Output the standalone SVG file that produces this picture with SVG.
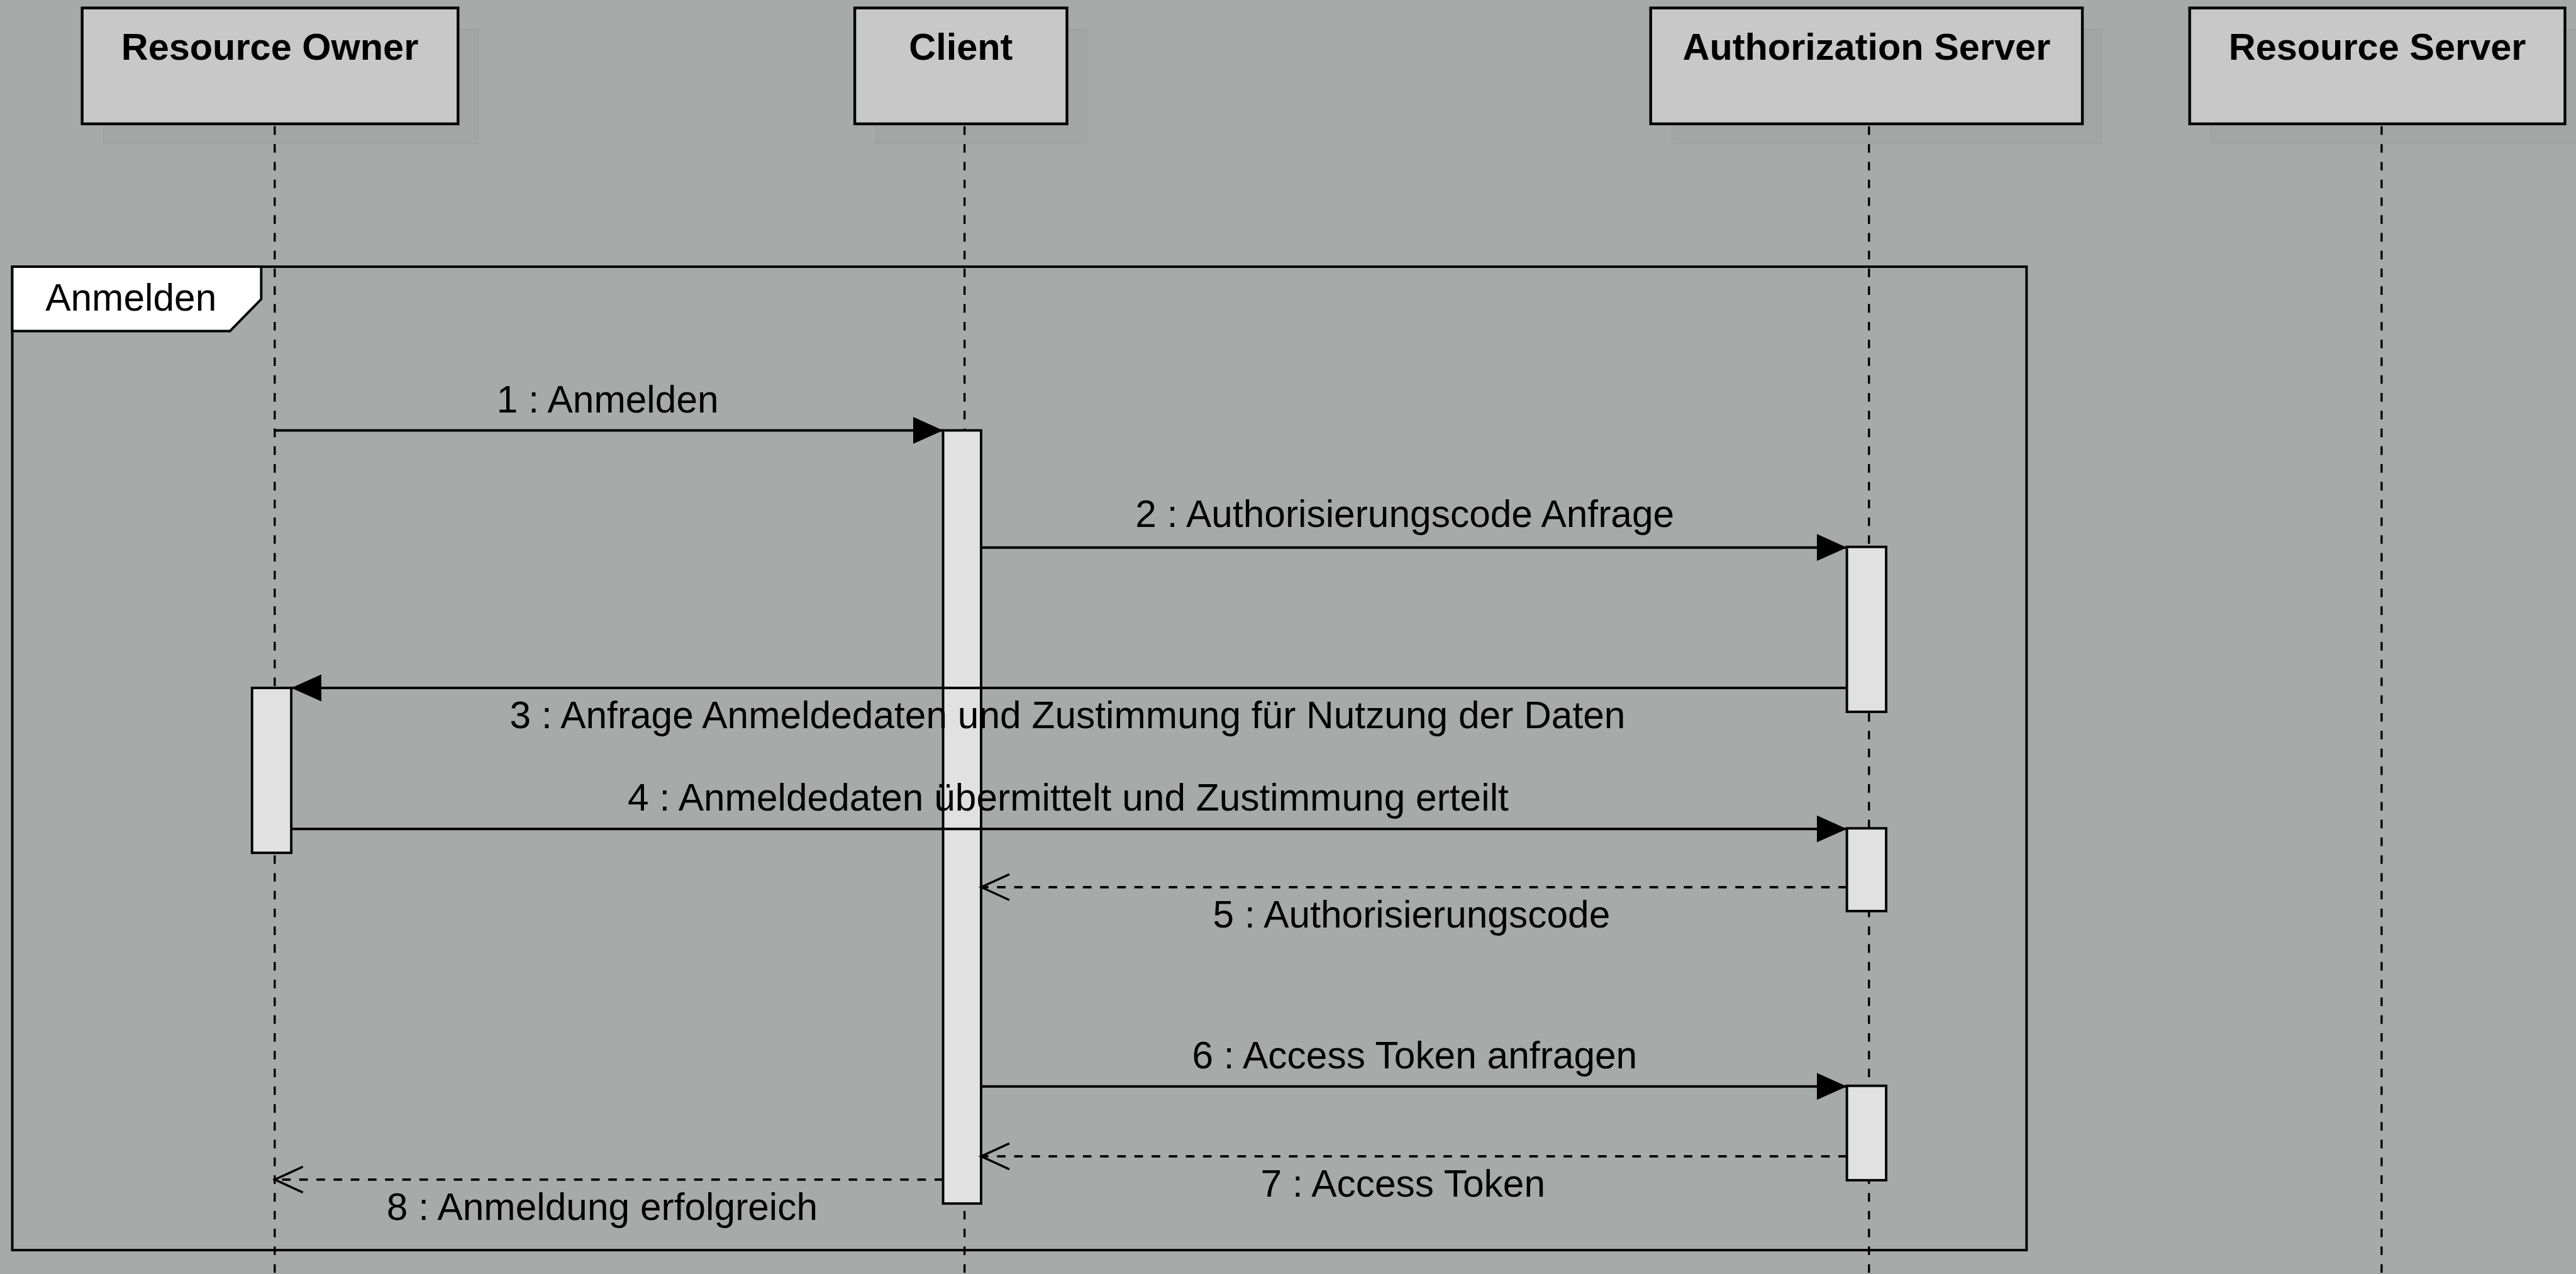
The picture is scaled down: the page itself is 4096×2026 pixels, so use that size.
<svg xmlns="http://www.w3.org/2000/svg" width="4096" height="2026" viewBox="0 0 4096 2026">
<defs>
<style>
.bg{fill:#a6aaa9}
.shadow{fill:#a2a6a5;stroke:#9ca09f;stroke-width:1.5}
.box{fill:#c8c8c8;stroke:#000;stroke-width:4.5}
.title{font-family:"Liberation Sans",Arial,sans-serif;font-weight:bold;font-size:61px;fill:#000;text-anchor:middle}
.life{stroke:#000;stroke-width:3.5;stroke-dasharray:14 15;fill:none}
.act{fill:#e1e1e1;stroke:#000;stroke-width:4}
.frame{fill:none;stroke:#000;stroke-width:4}
.flabel{fill:#fff;stroke:#000;stroke-width:4}
.lbl{font-family:"Liberation Sans",Arial,sans-serif;font-size:62px;fill:#000;text-anchor:middle}
.flbl{font-family:"Liberation Sans",Arial,sans-serif;font-size:62px;fill:#000}
.msg{stroke:#000;stroke-width:4;fill:none;marker-end:url(#filled)}
.ret{stroke:#000;stroke-width:4;fill:none;stroke-dasharray:14 14;marker-end:url(#open)}
</style>
<marker id="filled" markerUnits="userSpaceOnUse" markerWidth="50" markerHeight="46" viewBox="0 0 50 46" refX="49" refY="23" orient="auto">
<path d="M0,1 L49,23 L0,45 z" fill="#000"/>
</marker>
<marker id="open" markerUnits="userSpaceOnUse" markerWidth="52" markerHeight="50" viewBox="0 0 52 50" refX="48" refY="25" orient="auto">
<path d="M2,4 L48,25 L2,46" fill="none" stroke="#000" stroke-width="3.5"/>
</marker>
</defs>
<rect class="bg" x="0" y="0" width="4096" height="2026"/>
<g transform="scale(0.975)">
<g id="frame-anmelden">
<rect class="frame" x="20" y="435" width="3285" height="1604"/>
<path class="flabel" d="M20,435 L426,435 L426,488 L375,540 L20,540 Z"/>
<text class="flbl" x="74" y="507">Anmelden</text>
</g>
<g id="resource-owner">
<rect class="shadow" x="169" y="48" width="611" height="186"/>
<rect class="box" x="134" y="13" width="613" height="189"/>
<text class="title" x="440" y="97">Resource Owner</text>
<line class="life" x1="448" y1="206" x2="448" y2="2078"/>
</g>
<g id="client">
<rect class="shadow" x="1429" y="48" width="343" height="186"/>
<rect class="box" x="1394" y="13" width="346" height="189"/>
<text class="title" x="1567" y="97">Client</text>
<line class="life" x1="1573" y1="206" x2="1573" y2="2078"/>
</g>
<g id="authorization-server">
<rect class="shadow" x="2727" y="48" width="700" height="186"/>
<rect class="box" x="2692" y="13" width="704" height="189"/>
<text class="title" x="3044" y="97">Authorization Server</text>
<line class="life" x1="3048" y1="206" x2="3048" y2="2078"/>
</g>
<g id="resource-server">
<rect class="shadow" x="3606" y="48" width="612" height="186"/>
<rect class="box" x="3571" y="13" width="612" height="189"/>
<text class="title" x="3877" y="97">Resource Server</text>
<line class="life" x1="3884" y1="206" x2="3884" y2="2078"/>
</g>
<g id="activations">
<rect id="act-client" class="act" x="1538" y="702" width="62" height="1261"/>
<rect id="act-auth-1" class="act" x="3012" y="892" width="64" height="269"/>
<rect id="act-auth-2" class="act" x="3012" y="1351" width="64" height="135"/>
<rect id="act-auth-3" class="act" x="3012" y="1771" width="64" height="154"/>
<rect id="act-owner" class="act" x="411" y="1122" width="64" height="269"/>
</g>
<g id="connectors">
<line class="msg" x1="448" y1="702" x2="1538" y2="702"/>
<line class="msg" x1="1600" y1="893" x2="3012" y2="893"/>
<line class="msg" x1="3012" y1="1122" x2="475" y2="1122"/>
<line class="msg" x1="475" y1="1352" x2="3012" y2="1352"/>
<line class="ret" x1="3012" y1="1447" x2="1600" y2="1447"/>
<line class="msg" x1="1600" y1="1772" x2="3012" y2="1772"/>
<line class="ret" x1="3012" y1="1886" x2="1600" y2="1886"/>
<line class="ret" x1="1538" y1="1924" x2="448" y2="1924"/>
</g>
<g id="labels">
<text class="lbl" x="991" y="673">1 : Anmelden</text>
<text class="lbl" x="2291" y="859">2 : Authorisierungscode Anfrage</text>
<text class="lbl" x="1741" y="1188">3 : Anfrage Anmeldedaten und Zustimmung für Nutzung der Daten</text>
<text class="lbl" x="1742" y="1322">4 : Anmeldedaten übermittelt und Zustimmung erteilt</text>
<text class="lbl" x="2302" y="1513">5 : Authorisierungscode</text>
<text class="lbl" x="2307" y="1743">6 : Access Token anfragen</text>
<text class="lbl" x="2288" y="1952">7 : Access Token</text>
<text class="lbl" x="982" y="1990">8 : Anmeldung erfolgreich</text>
</g>
</g>
</svg>
